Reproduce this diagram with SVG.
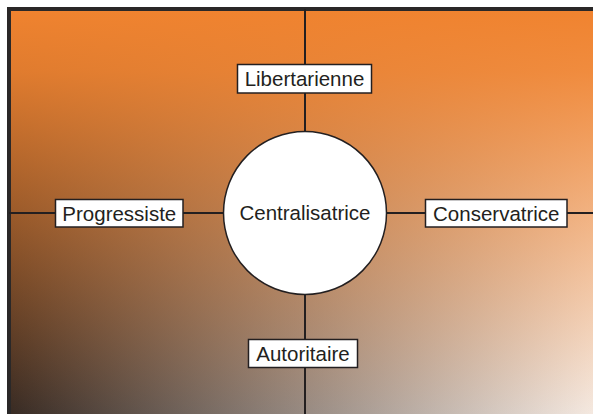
<svg xmlns="http://www.w3.org/2000/svg" width="593" height="414" viewBox="0 0 593 414">
  <defs>
    <linearGradient id="base" x1="0" y1="0" x2="1" y2="0">
      <stop offset="0" stop-color="#262222"/>
      <stop offset="1" stop-color="#faf8f7"/>
    </linearGradient>
    <linearGradient id="orange" x1="0" y1="0" x2="0" y2="1">
      <stop offset="0" stop-color="#f0832f" stop-opacity="1"/>
      <stop offset="0.15" stop-color="#f0832f" stop-opacity="0.92"/>
      <stop offset="1" stop-color="#f0832f" stop-opacity="0.05"/>
    </linearGradient>
    <style>
      .axis { stroke: #231f20; stroke-width: 2; fill: none; }
      .box { fill: #ffffff; stroke: #231f20; stroke-width: 1.5; }
      .lbl { font-family: "Liberation Sans", Arial, sans-serif; font-size: 20.5px; fill: #231f20; text-anchor: middle; }
    </style>
  </defs>
  <rect x="9" y="9" width="600" height="420" fill="url(#base)"/>
  <rect x="9" y="9" width="600" height="420" fill="url(#orange)"/>
  <rect x="9" y="9" width="600" height="420" fill="none" stroke="#2a2828" stroke-width="4"/>
  <g id="connectors">
    <line class="axis" x1="305" y1="9" x2="305" y2="414"/>
    <line class="axis" x1="9" y1="213" x2="593" y2="213"/>
  </g>
  <g id="centralisatrice">
    <circle cx="305" cy="213" r="81.5" fill="#ffffff" stroke="#231f20" stroke-width="1.5"/>
    <text class="lbl" x="305" y="220">Centralisatrice</text>
  </g>
  <g id="libertarienne">
    <rect class="box" x="237.5" y="64.5" width="134" height="28.5"/>
    <text class="lbl" x="304.5" y="86">Libertarienne</text>
  </g>
  <g id="progressiste">
    <rect class="box" x="55.5" y="199.5" width="127.5" height="27.5"/>
    <text class="lbl" x="119.3" y="220.5">Progressiste</text>
  </g>
  <g id="conservatrice">
    <rect class="box" x="425.5" y="199.5" width="141.5" height="27.5"/>
    <text class="lbl" x="496.3" y="220.5">Conservatrice</text>
  </g>
  <g id="autoritaire">
    <rect class="box" x="248.5" y="339.5" width="109" height="28"/>
    <text class="lbl" x="303" y="361">Autoritaire</text>
  </g>
</svg>
